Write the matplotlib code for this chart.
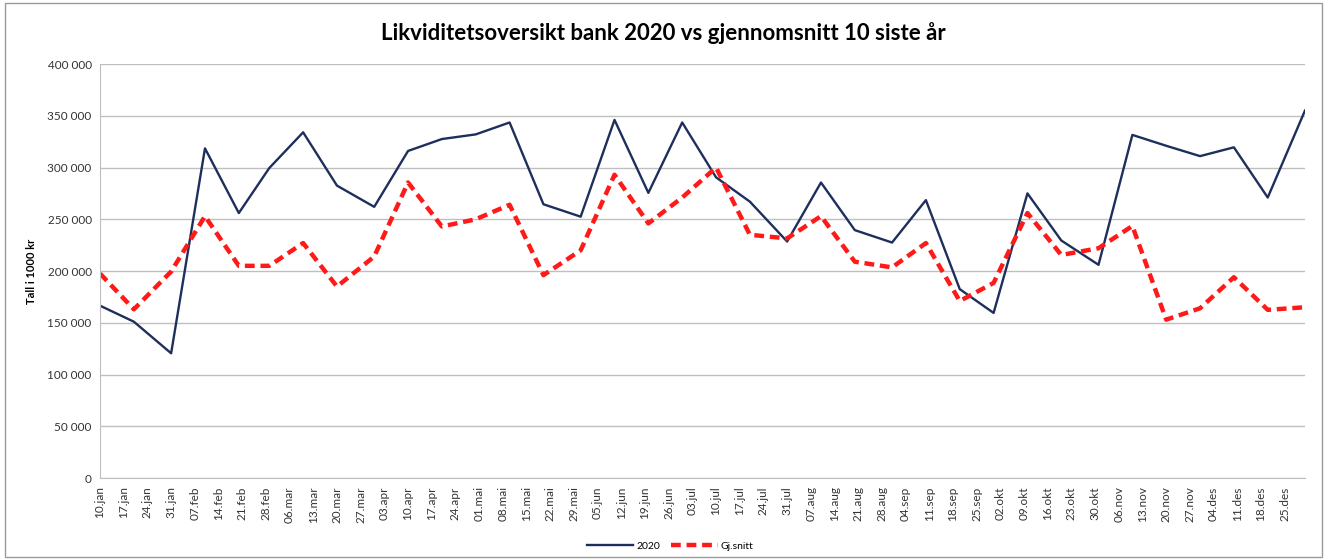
import matplotlib
matplotlib.use("Agg")
import matplotlib.pyplot as plt
from matplotlib.ticker import FuncFormatter
from matplotlib.patches import Rectangle
import pandas as pd

# reporting dates: 10th, 20th and last day of each month
dates = ["2020-01-10", "2020-01-20", "2020-01-31", "2020-02-10", "2020-02-20", "2020-02-29",
         "2020-03-10", "2020-03-20", "2020-03-31", "2020-04-10", "2020-04-20", "2020-04-30",
         "2020-05-10", "2020-05-20", "2020-05-31", "2020-06-10", "2020-06-20", "2020-06-30",
         "2020-07-10", "2020-07-20", "2020-07-31", "2020-08-10", "2020-08-20", "2020-08-31",
         "2020-09-10", "2020-09-20", "2020-09-30", "2020-10-10", "2020-10-20", "2020-10-31",
         "2020-11-10", "2020-11-20", "2020-11-30", "2020-12-10", "2020-12-20", "2020-12-31"]

bank_2020 = [166500, 151000, 120500, 318500, 256000, 299500,
             334000, 282500, 262000, 316000, 327500, 332000,
             343500, 264500, 252500, 346000, 275500, 343500,
             290500, 267000, 228500, 285500, 239500, 227500,
             268500, 182500, 159500, 275000, 229500, 206000,
             331500, 321000, 311000, 319500, 271000, 355000]

gj_snitt = [197500, 163000, 199500, 253000, 205000, 205000,
            227000, 185000, 214000, 285500, 243000, 250000,
            264000, 196000, 220000, 293000, 246000, 271000,
            300000, 235000, 231500, 253000, 209000, 203500,
            227000, 171000, 188500, 256000, 215500, 222000,
            243500, 153000, 164000, 194000, 162500, 165000]

month_names = ["jan", "feb", "mar", "apr", "mai", "jun",
               "jul", "aug", "sep", "okt", "nov", "des"]

x = pd.to_datetime(dates)
ticks = pd.date_range("2020-01-10", "2020-12-31", freq="7D")

plt.rcParams['font.family'] = ['Lato', 'DejaVu Sans']

fig, ax = plt.subplots(figsize=(13.27, 5.6), dpi=100)
fig.subplots_adjust(left=0.0754, right=0.9834, top=0.8857, bottom=0.1464)

ax.plot(x, bank_2020, color='#1f2f5c', lw=1.7, label='2020')
ax.plot(x, gj_snitt, color='#ff1a1a', lw=3.2, ls=(0, (2.2, 1.3)), label='Gj.snitt')

ax.set_xlim(x[0], x[-1])
ax.set_ylim(0, 400000)
ax.set_yticks(range(0, 400001, 50000))
ax.yaxis.set_major_formatter(FuncFormatter(lambda v, p: f"{int(v):,}".replace(",", " ")))
ax.set_xticks(ticks)
ax.set_xticklabels([f"{d.day:02d}.{month_names[d.month - 1]}" for d in ticks], rotation=90)

ax.tick_params(axis='both', length=0, labelsize=8.5, colors='#333333', pad=6)
ax.grid(axis='y', color='#bfbfbf', lw=1)
ax.set_axisbelow(True)
for side in ['top', 'right']:
    ax.spines[side].set_visible(False)
for side in ['left', 'bottom']:
    ax.spines[side].set_color('#bfbfbf')

ax.set_ylabel('Tall i 1000 kr', fontsize=8, fontweight='bold')
ax.yaxis.set_label_coords(-0.052, 0.5)

fig.text(0.5, 0.941, 'Likviditetsoversikt bank 2020 vs gjennomsnitt 10 siste år',
         ha='center', va='center', fontsize=16, fontweight='bold')

fig.legend(loc='center', bbox_to_anchor=(0.505, 0.025), ncol=2, frameon=False,
           fontsize=7.5, handlelength=4.5, columnspacing=1.0, handletextpad=0.3)

fig.patches.append(Rectangle((0.004, 0.005), 0.992, 0.99, transform=fig.transFigure,
                             fill=False, edgecolor='#999999', lw=1))

fig.savefig('out.png', dpi=100)
